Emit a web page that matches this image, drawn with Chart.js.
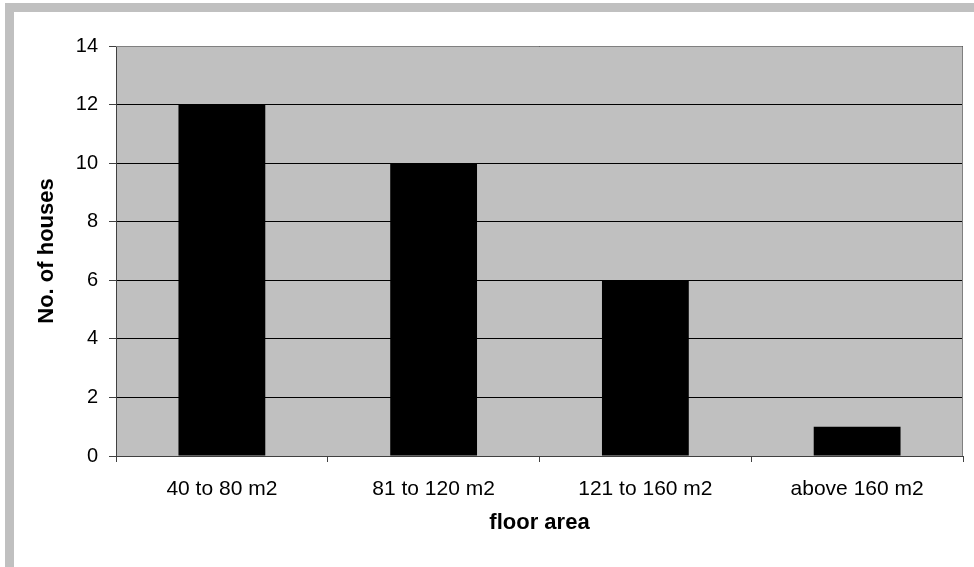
<!DOCTYPE html><html lang="en">
<head>
  <meta charset="UTF-8"/>
  <title>Floor area chart</title>
  <script src="https://cdn.jsdelivr.net/npm/chart.js"></script>
  <style>
    *{box-sizing:border-box;margin:0;padding:0}
    body{background:#fff;width:974px;height:567px;overflow:hidden}
    #wrap{position:relative;width:974px;height:567px}
  </style>
</head>
<body>
  <div id="wrap"><canvas id="chart" width="974" height="567"></canvas></div>
  <script>
    // data
    const categories = ['40 to 80 m2', '81 to 120 m2', '121 to 160 m2', 'above 160 m2'];
    const houses = [12, 10, 6, 1];
    const yTicks = [0, 2, 4, 6, 8, 10, 12, 14];

    const FONT = "'Liberation Sans', Arial, sans-serif";

    // outer frame + grey plot area
    const frame = {
      id: 'frame',
      beforeDraw(chart){
        const c = chart.ctx, a = chart.chartArea;
        c.save();
        c.fillStyle = '#c0c0c0';
        c.fillRect(5, 3, chart.width - 5, 9);
        c.fillRect(5, 3, 9, chart.height - 3);
        c.fillRect(a.left, a.top, a.right - a.left, a.bottom - a.top);
        c.restore();
      },
      afterDraw(chart){
        const c = chart.ctx, a = chart.chartArea;
        c.save();
        c.strokeStyle = '#808080';
        c.lineWidth = 1;
        c.beginPath();
        c.moveTo(a.left, a.top + 0.5);
        c.lineTo(a.right - 0.5, a.top + 0.5);
        c.lineTo(a.right - 0.5, a.bottom);
        c.stroke();
        c.restore();
      }
    };

    new Chart(document.getElementById('chart'), {
      type: 'bar',
      data: {
        labels: categories,
        datasets: [{
          data: houses,
          backgroundColor: '#000',
          borderWidth: 0,
          barPercentage: 0.41,
          categoryPercentage: 1
        }]
      },
      options: {
        responsive: false,
        animation: false,
        devicePixelRatio: 1,
        layout: {padding: {left: 0, top: 46, right: 11, bottom: 0}},
        plugins: {legend: {display: false}, tooltip: {enabled: false}},
        scales: {
          x: {
            afterFit(s){ s.height = 111; },
            grid: {offset: true, drawOnChartArea: false, color: '#404040', tickLength: 6},
            border: {color: '#404040', width: 1},
            ticks: {color: '#000', font: {family: FONT, size: 21}, padding: 15, maxRotation: 0},
            title: {display: true, text: 'floor area', color: '#000',
                    font: {family: FONT, size: 22, weight: 'bold'}, padding: {top: 0, bottom: 31}}
          },
          y: {
            min: 0, max: 14,
            afterFit(s){ s.width = 116; },
            afterBuildTicks(s){ s.ticks = yTicks.map(v => ({value: v})); },
            grid: {color: '#000', lineWidth: 1, tickColor: '#404040', tickLength: 7},
            border: {color: '#404040', width: 1},
            ticks: {color: '#000', font: {family: FONT, size: 20}, padding: 11},
            title: {display: true, text: 'No. of houses', color: '#000',
                    font: {family: FONT, size: 22, weight: 'bold'}, padding: {top: 34, bottom: 0}}
          }
        }
      },
      plugins: [frame]
    });
  </script>
</body>
</html>
